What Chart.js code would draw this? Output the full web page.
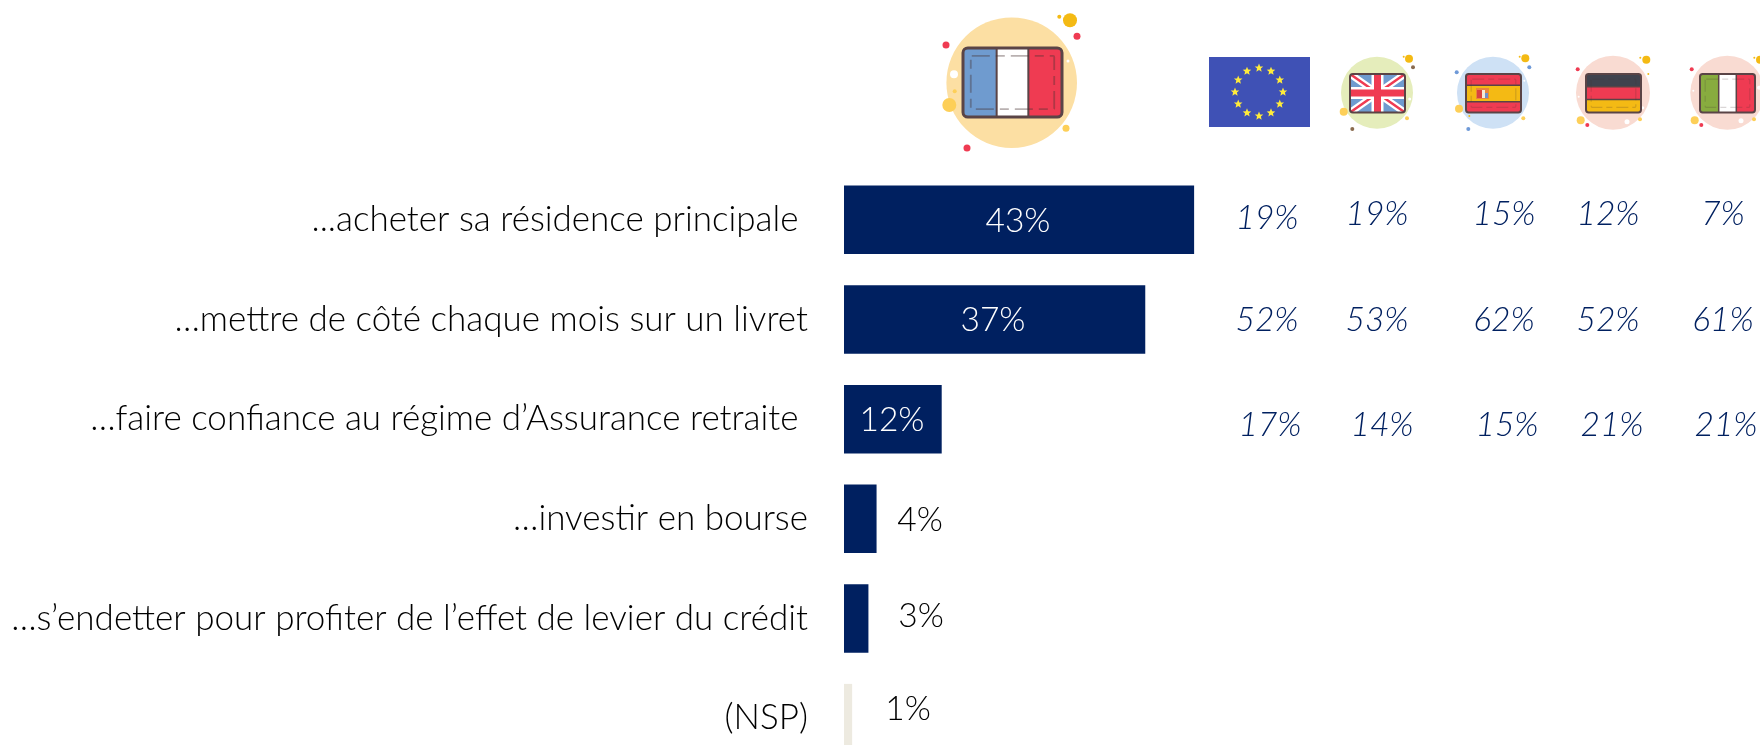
<!DOCTYPE html>
<html><head><meta charset="utf-8">
<style>html,body{margin:0;padding:0;background:#fff;overflow:hidden;width:1760px;height:745px}
#w{position:relative;width:1760px;height:745px;overflow:hidden}canvas{position:absolute;left:0;top:0}</style>
<script src="https://cdn.jsdelivr.net/npm/chart.js@4"></script></head>
<body><div id="w"><canvas id="c" width="1760" height="800" style="width:1760px;height:800px"></canvas></div>
<script>
const categories=["...acheter sa résidence principale\u00a0","…mettre de côté chaque mois sur un livret","…faire confiance au régime d’Assurance retraite\u00a0","…investir en bourse","…s’endetter pour profiter de l’effet de levier du crédit","(NSP)"];
const franceValues=[43,37,12,4,3,1];
const barColors=["#002060","#002060","#002060","#002060","#002060","#EDEAE0"];
const europe=[19,52,17];
const uk=[19,53,14];
const spain=[15,62,15];
const germany=[12,52,21];
const italy=[7,61,21];
const FONT='Lato';
const labelAt=[[1018,1],[993,1],[892,1],[920,1],[921,-2],[908,-9]];
const cols=[{v:europe,x:[1267,1267,1270],dy:[-2,1,6]},{v:uk,x:[1377,1377,1382],dy:[-6,1,6]},{v:spain,x:[1504,1504,1507],dy:[-6,1,6]},{v:germany,x:[1608,1608,1612],dy:[-6,1,6]},{v:italy,x:[1723,1723,1726],dy:[-6,1,6]}];
const INK='#5a4446';
function rr(c,x,y,w,h,r){c.beginPath();c.roundRect(x,y,w,h,r);}
function dots(c,l){l.forEach(d=>{c.fillStyle=d[3];c.beginPath();c.arc(d[0],d[1],d[2],0,7);c.fill();});}
function bands(c,x,y,w,h,list,vert){c.save();rr(c,x,y,w,h,h*.07);c.clip();let p=0;list.forEach(b=>{c.fillStyle=b[0];if(vert)c.fillRect(x+p*w,y,b[1]*w+.5,h);else c.fillRect(x,y+p*h,w,b[1]*h+.5);p+=b[1];});
 c.strokeStyle=INK;c.lineWidth=h>60?2:1.5;p=0;list.slice(0,-1).forEach(b=>{p+=b[1];c.beginPath();if(vert){c.moveTo(x+p*w,y);c.lineTo(x+p*w,y+h);}else{c.moveTo(x,y+p*h);c.lineTo(x+w,y+p*h);}c.stroke();});c.restore();}
function frame(c,x,y,w,h,s){const m=s*2.6;c.strokeStyle=s>2?'rgba(70,50,50,.38)':'rgba(70,50,50,.2)';c.lineWidth=s*.6;c.setLineDash([s*6,s*2,s*3,s*2]);rr(c,x+m,y+m,w-2*m,h-2*m,1);c.stroke();c.setLineDash([]);
 c.strokeStyle=INK;c.lineWidth=s;rr(c,x,y,w,h,h*.07);c.stroke();}
function disc(c,x,y,r,col){c.fillStyle=col;c.beginPath();c.arc(x,y,r,0,7);c.fill();}
const Y='#F4BA14',L='#FDCF58',R='#EF3B52',W='#FFFFFF',BR='#8A6B4F',BL='#6F9AD8';
const icons={id:'icons',afterDraw(ch){const c=ch.ctx;c.save();
 disc(c,1011.7,82.7,65.3,'#FCDFA3');
 dots(c,[[1070,20.3,7,Y],[1059.3,16.7,2,Y],[1077,36.3,3.5,R],[946,45,3.5,R],[967,148,3.5,R],[954,74.3,4,W],[954.7,91.3,2,L],[949.3,105,7,L],[1066,128.3,3.5,L],[1068,61,1.5,W]]);
 bands(c,963,48,99,69,[['#6F9BCF',.34],['#FFFFFF',.32],['#EF3B52',.34]],true);frame(c,963,48,99,69,3);
 c.fillStyle='#3F51B5';c.fillRect(1209,57,101,70);
 c.fillStyle='#FFEB3B';for(let i=0;i<12;i++){const a=i*Math.PI/6;const sx=1259+24*Math.sin(a),sy=92-24*Math.cos(a);c.beginPath();for(let k=0;k<10;k++){const r=k%2?2:4.5,b=k*Math.PI/5;c[k?'lineTo':'moveTo'](sx+r*Math.sin(b),sy-r*Math.cos(b));}c.closePath();c.fill();}
 disc(c,1377,92.7,36,'#E5EDBB');
 dots(c,[[1409,58.7,4,Y],[1403.7,56.7,1,Y],[1413,67.3,2,BR],[1409.7,99,1.5,W],[1407,118.3,2,L],[1343.7,111.7,4,L],[1352.3,129,2,BR]]);
 c.save();rr(c,1350,74,55,38.5,3);c.clip();c.fillStyle='#6F9BCF';c.fillRect(1350,74,55,39);
 c.strokeStyle='#fff';c.lineWidth=7;c.beginPath();c.moveTo(1350,74);c.lineTo(1405,112.5);c.moveTo(1405,74);c.lineTo(1350,112.5);c.stroke();
 c.strokeStyle=R;c.lineWidth=2.5;c.stroke();
 c.fillStyle='#fff';c.fillRect(1371.5,74,12,39);c.fillRect(1350,87,55,12);c.fillStyle=R;c.fillRect(1374,74,7,39);c.fillRect(1350,89.5,55,7);c.restore();
 c.strokeStyle=INK;c.lineWidth=2;rr(c,1350,74,55,38.5,3);c.stroke();
 disc(c,1493,92.7,36,'#CEE1F5');
 dots(c,[[1525.3,58.3,4,Y],[1519.7,56.7,1,Y],[1529.3,67.3,2,BL],[1456.7,72.3,2,BL],[1459,108.7,4,L],[1469.3,116,1,Y],[1468.3,129,2,BL],[1523.3,118.3,2,L],[1524.3,80.7,1,W]]);
 bands(c,1466,74,55,38.5,[['#EF3B52',.29],['#F4BA14',.43],['#EF3B52',.28]],false);
 c.fillStyle='#E8873A';c.fillRect(1476,88,13,11);c.fillStyle='#D9433F';c.fillRect(1477,90,5,8);c.fillStyle='#F5EAD5';c.fillRect(1482,90,3,8);c.fillStyle='#6F8FC8';c.fillRect(1485,93,3,5);
 frame(c,1466,74,55,38.5,2);
 disc(c,1613,92.7,37,'#F9DBD2');
 dots(c,[[1646.3,59.7,4,Y],[1640.3,57.7,1,Y],[1648.3,74,1,Y],[1577.7,69.3,2,R],[1580.7,120.3,4,L],[1587.3,125,2,R],[1627,121.7,2.5,W],[1640,119.3,2,L],[1578.7,96.7,1,W],[1642.7,107.7,1.5,W]]);
 bands(c,1586,74,55,38.5,[['#40434E',.33],['#EF3B52',.33],['#F4BA14',.34]],false);frame(c,1586,74,55,38.5,2);
 disc(c,1727.3,92.7,37,'#F9DBD2');
 dots(c,[[1760,59.7,4,Y],[1754.3,57.7,1,Y],[1691.7,69.3,2,R],[1694.7,120.3,4,L],[1701.3,125,2,R],[1741,120.7,2.5,W],[1754,119.3,2,L],[1759,87.7,2,W],[1693.3,90.7,1,W]]);
 bands(c,1700,74,55,38.5,[['#88AC3F',.34],['#FFFFFF',.32],['#EF3B52',.34]],true);frame(c,1700,74,55,38.5,2);
 c.restore();}};
const texts={id:'texts',afterDatasetsDraw(ch){const c=ch.ctx,y=ch.scales.y;c.save();c.textAlign='center';c.textBaseline='middle';
 c.font='300 33.5px '+FONT;
 franceValues.forEach((v,i)=>{c.fillStyle=i<3?'#FFFFFF':'#000000';c.fillText(v+'%',labelAt[i][0],y.getPixelForValue(i)+labelAt[i][1]);});
 c.font='italic 300 33.5px '+FONT;c.fillStyle='#002060';
 cols.forEach(k=>k.v.forEach((v,i)=>c.fillText(v+'%',k.x[i],y.getPixelForValue(i)+k.dy[i])));
 c.restore();}};
new Chart(document.getElementById('c'),{type:'bar',data:{labels:categories,datasets:[{label:'France',data:franceValues,backgroundColor:barColors,barPercentage:.688,categoryPercentage:1}]},
 options:{indexAxis:'y',responsive:false,animation:false,layout:{padding:{top:170,bottom:32,left:0,right:0}},
 plugins:{legend:{display:false},tooltip:{enabled:false}},
 scales:{x:{display:false,min:0,max:112.5},
  y:{afterFit(s){s.width=844;s.paddingTop=0;s.paddingBottom=0;},grid:{display:false},border:{display:false},ticks:{padding:28,color:'#000000',font:{family:FONT,weight:300,size:35}}}}},
 plugins:[icons,texts]});
</script></body></html>
